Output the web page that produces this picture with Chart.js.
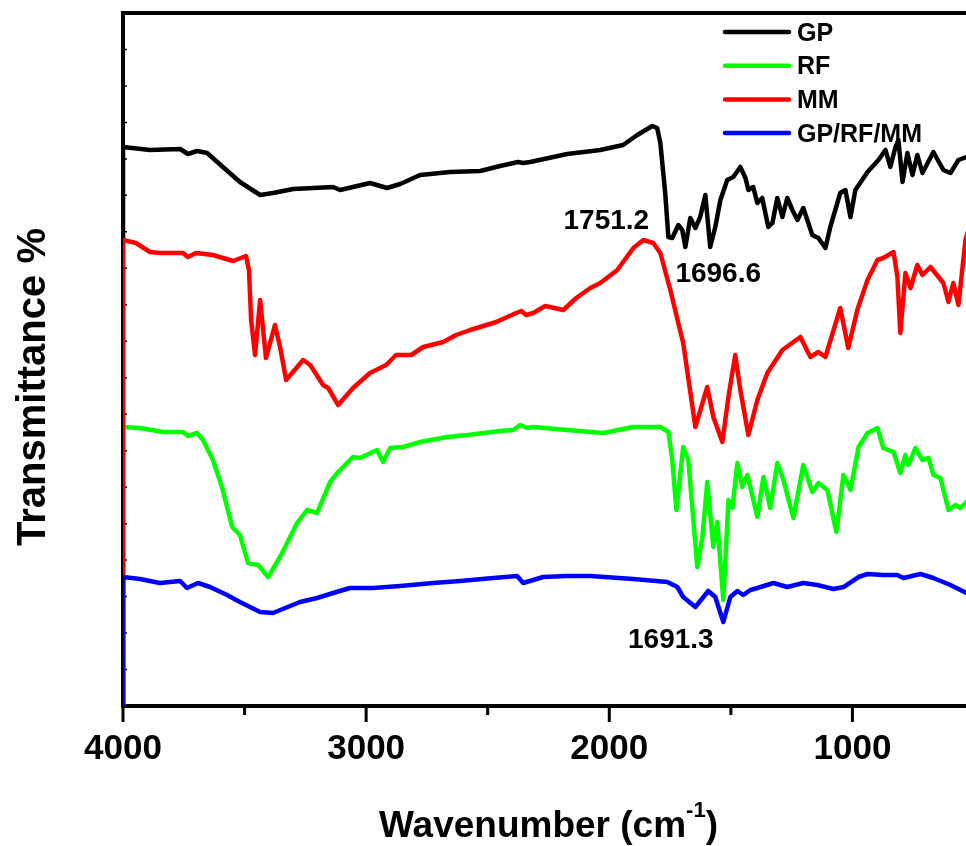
<!DOCTYPE html>
<html>
<head>
<meta charset="utf-8">
<script src="https://cdn.jsdelivr.net/npm/chart.js@4.4.1/dist/chart.umd.min.js"></script>
<style>
html,body{margin:0;padding:0;background:#fff;overflow:hidden;}
#wrap{position:absolute;left:0;top:0;width:980px;height:846px;}
</style>
</head>
<body>
<div id="wrap"><canvas id="c" width="980" height="846"></canvas></div>
<script>
// ---- Data (wavenumber in cm-1, transmittance in arbitrary offset units) ----
const seriesLabels = ['GP', 'RF', 'MM', 'GP/RF/MM'];

const gpWavenumber = [4000,4000,3889,3765,3733,3695,3654,3589,3519,3436,3383,3300,3136,3107,2984,2914,2860,2778,2654,2531,2449,2375,2354,2325,2173,2037,1943,1885,1823,1803,1790,1770,1757,1741,1716,1700,1687,1667,1646,1626,1605,1585,1564,1543,1515,1490,1461,1440,1428,1408,1391,1371,1346,1329,1309,1288,1268,1247,1226,1202,1165,1140,1111,1091,1050,1029,1008,988,938,893,864,844,823,811,794,774,753,733,712,667,626,597,564,531,500];
const gpTransmittance = [0,559,556,557,552,555,553,539,524,511,513,517,519,516,523,518,522,531,534,535,540,544,543,544,552,556,561,571,580,578,563,513,469,468,481,476,459,488,478,489,511,459,479,506,526,529,539,528,516,519,503,508,479,483,508,489,508,496,486,498,471,468,458,479,513,516,489,516,534,546,556,539,559,566,524,553,531,551,533,554,536,533,546,549,552];

const rfWavenumber = [4000,4000,3930,3835,3753,3733,3695,3671,3630,3593,3551,3519,3486,3444,3403,3354,3284,3243,3202,3148,3115,3054,3025,2955,2930,2901,2848,2778,2667,2584,2449,2395,2366,2338,2313,2173,2025,1901,1790,1757,1741,1724,1696,1675,1638,1617,1597,1572,1556,1531,1510,1494,1473,1453,1432,1391,1366,1338,1309,1284,1243,1202,1165,1140,1103,1066,1037,1008,975,938,897,873,831,803,782,770,741,712,687,667,638,605,576,556,531,500];
const rfTransmittance = [0,279,278,274,274,270,273,266,246,219,179,171,143,141,129,149,183,196,193,224,234,249,248,256,244,258,259,264,269,271,275,276,281,278,279,276,273,279,279,274,246,196,259,246,139,169,224,159,184,106,206,198,243,219,231,189,229,198,243,226,188,241,214,223,216,174,231,216,259,273,278,258,254,233,251,241,258,246,248,231,228,196,201,198,204,206];

const mmWavenumber = [4000,4000,3947,3889,3848,3753,3733,3700,3630,3589,3547,3494,3482,3473,3457,3436,3412,3375,3354,3329,3259,3230,3177,3156,3115,3054,2984,2918,2877,2815,2765,2683,2630,2572,2465,2383,2362,2342,2313,2263,2189,2136,2078,2037,1967,1901,1860,1819,1790,1749,1696,1646,1597,1572,1535,1510,1482,1461,1428,1391,1350,1288,1214,1173,1140,1111,1050,1017,980,938,897,873,831,815,803,782,761,733,712,679,626,605,585,564,535,500];
const mmTransmittance = [0,466,463,454,453,453,449,453,451,448,445,450,436,386,351,406,348,381,359,326,346,341,321,318,301,318,333,341,351,351,359,364,371,376,384,393,395,391,393,400,396,408,418,423,436,458,466,463,453,416,363,279,319,289,264,309,351,316,271,306,333,356,369,349,354,349,398,358,396,426,446,448,454,429,373,433,418,441,431,439,423,404,423,401,466,495];

const mixWavenumber = [4000,4000,3930,3848,3765,3737,3691,3642,3572,3519,3436,3383,3272,3202,3136,3066,2971,2860,2724,2613,2477,2379,2354,2313,2272,2177,2078,1901,1761,1720,1696,1646,1593,1564,1531,1502,1473,1449,1420,1391,1325,1268,1202,1144,1078,1037,975,938,873,815,790,720,667,597,531,500];
const mixTransmittance = [0,129,127,123,125,118,123,119,111,104,94,93,104,108,113,118,118,120,123,125,128,130,123,126,129,130,130,127,124,119,109,99,115,109,84,109,115,111,116,118,123,119,123,121,117,119,129,132,131,131,128,132,128,121,113,110];

const xTickLabels = [4000, 3000, 2000, 1000];
const xMinorTicks = [3500, 2500, 1500];

const peakLabels = ['1751.2', '1696.6', '1691.3'];
const peakAnchorX = [2012, 1552, 1747];
const peakAnchorY = [477, 424, 58];

// ---- build ----
function pts(xs, ys){ return xs.map((v,i)=>({x:v, y:ys[i]})); }
const colors = ['#000000', '#00ff00', '#ff0000', '#0000ff'];
const drawOrder = [3, 2, 1, 0];
const seriesData = [pts(gpWavenumber,gpTransmittance), pts(rfWavenumber,rfTransmittance), pts(mmWavenumber,mmTransmittance), pts(mixWavenumber,mixTransmittance)];

const FONT = 'Arial, "Liberation Sans", sans-serif';

const decor = {
  id: 'decor',
  beforeDatasetsDraw(chart){
    const {ctx, chartArea:a, scales:{x, y}} = chart;
    ctx.save();
    ctx.strokeStyle = '#000';
    ctx.lineWidth = 4;
    ctx.lineCap = 'square';
    ctx.beginPath();
    ctx.moveTo(a.left, a.bottom); ctx.lineTo(a.left, a.top); ctx.lineTo(a.right + 20, a.top);
    ctx.moveTo(a.left, a.bottom); ctx.lineTo(a.right + 20, a.bottom);
    ctx.stroke();
    ctx.lineCap = 'butt';
    ctx.lineWidth = 3;
    ctx.beginPath();
    xTickLabels.forEach(v => { const p = x.getPixelForValue(v); ctx.moveTo(p, a.bottom); ctx.lineTo(p, a.bottom + 16); });
    xMinorTicks.forEach(v => { const p = x.getPixelForValue(v); ctx.moveTo(p, a.bottom); ctx.lineTo(p, a.bottom + 9); });
    ctx.stroke();
    ctx.lineWidth = 1.5;
    ctx.beginPath();
    for (let i = 1; i < 19; i++) {
      const p = y.getPixelForValue(y.min + i * (y.max - y.min) / 19);
      ctx.moveTo(a.left, p); ctx.lineTo(a.left + 4, p);
    }
    ctx.stroke();
    ctx.restore();
  },
  afterDraw(chart){
    const {ctx, chartArea:a, scales:{x, y}} = chart;
    ctx.save();
    ctx.fillStyle = '#000';
    // legend
    chart.data.datasets.forEach((ds, i) => {
      const yy = 32 + i * 33.7;
      ctx.strokeStyle = ds.borderColor;
      ctx.lineWidth = 4.5;
      ctx.lineCap = 'round';
      ctx.beginPath(); ctx.moveTo(725, yy); ctx.lineTo(789, yy); ctx.stroke();
      ctx.font = 'bold 25px ' + FONT;
      ctx.textAlign = 'left';
      ctx.textBaseline = 'alphabetic';
      ctx.fillText(ds.label, 797, yy + 8.5);
    });
    // peak annotations
    ctx.font = 'bold 28px ' + FONT;
    ctx.textAlign = 'center';
    ctx.textBaseline = 'alphabetic';
    peakLabels.forEach((t, i) => {
      ctx.fillText(t, x.getPixelForValue(peakAnchorX[i]), y.getPixelForValue(peakAnchorY[i]));
    });
    // x title with superscript
    const main = 'Wavenumber (cm', sup = '-1', close = ')';
    ctx.font = 'bold 37px ' + FONT;
    const w1 = ctx.measureText(main).width, w3 = ctx.measureText(close).width;
    ctx.font = 'bold 22px ' + FONT;
    const w2 = ctx.measureText(sup).width;
    const cx = (a.left + a.right) / 2;
    let sx = cx - (w1 + w2 + w3) / 2;
    const base = 837;
    ctx.textAlign = 'left';
    ctx.font = 'bold 37px ' + FONT;
    ctx.fillText(main, sx, base);
    ctx.font = 'bold 22px ' + FONT;
    ctx.fillText(sup, sx + w1, base - 20);
    ctx.font = 'bold 37px ' + FONT;
    ctx.fillText(close, sx + w1 + w2, base);
    // y title
    ctx.translate(45, 387);
    ctx.rotate(-Math.PI / 2);
    ctx.font = 'bold 40px ' + FONT;
    ctx.textAlign = 'center';
    ctx.fillText('Transmittance %', 0, 0);
    ctx.restore();
  }
};

new Chart(document.getElementById('c'), {
  type: 'line',
  data: {
    datasets: seriesLabels.map((lab, i) => ({
      label: lab,
      data: seriesData[i],
      borderColor: colors[i],
      backgroundColor: colors[i],
      borderWidth: 4.5,
      pointRadius: 0,
      tension: 0,
      fill: false,
      borderJoinStyle: 'round',
      borderCapStyle: 'round',
      order: drawOrder[i]
    }))
  },
  options: {
    responsive: false,
    animation: false,
    devicePixelRatio: 1,
    layout: { padding: { left: 123, top: 13, right: 6, bottom: 0 } },
    plugins: { legend: { display: false }, tooltip: { enabled: false } },
    scales: {
      x: {
        type: 'linear',
        reverse: true,
        min: 500,
        max: 4000,
        afterFit(scale){ scale.height = 140; },
        afterBuildTicks(scale){ scale.ticks = xTickLabels.map(v => ({ value: v })); },
        grid: { display: false, drawTicks: false },
        border: { display: false },
        ticks: {
          autoSkip: false,
          maxRotation: 0,
          padding: 22,
          color: '#000',
          font: { family: FONT, size: 35, weight: 'bold' },
          callback: (v) => String(v)
        }
      },
      y: {
        type: 'linear',
        display: false,
        min: 0,
        max: 693
      }
    }
  },
  plugins: [decor]
});
</script>
</body>
</html>
